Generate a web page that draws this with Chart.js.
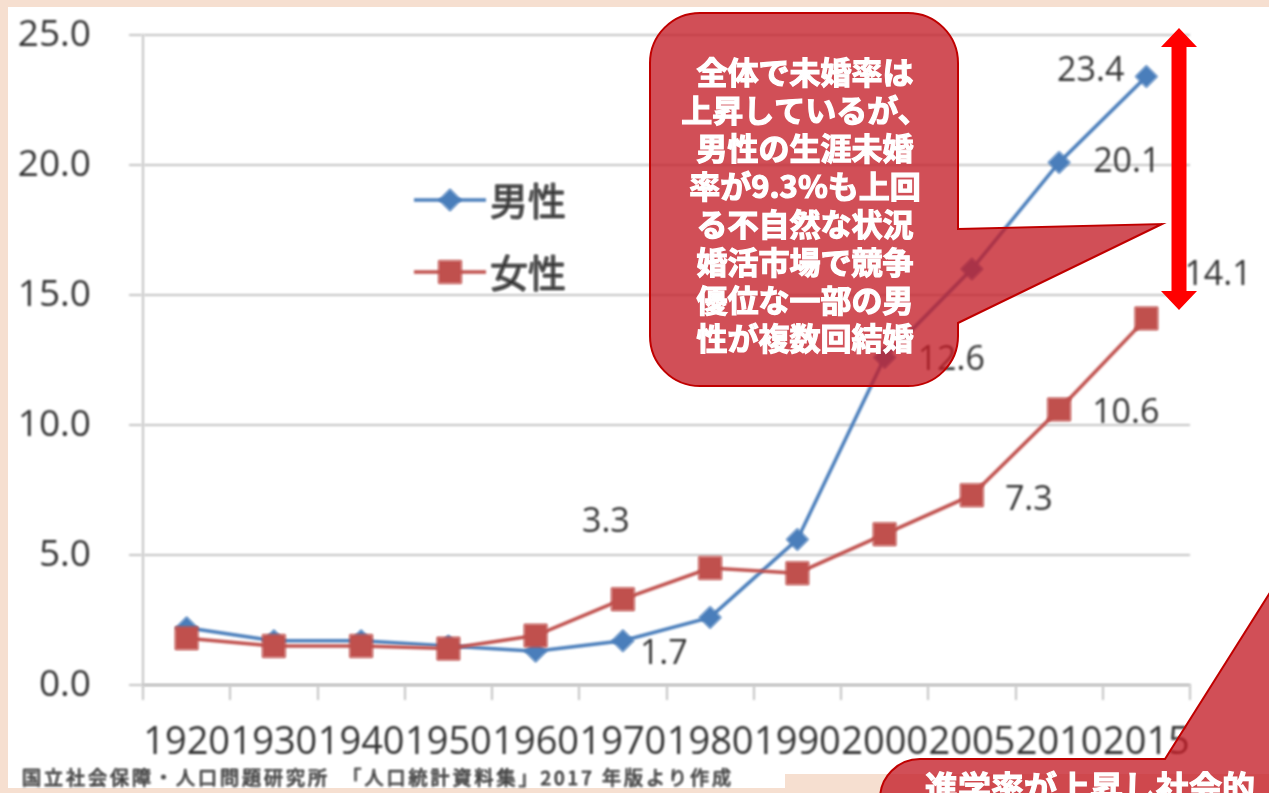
<!DOCTYPE html>
<html lang="ja">
<head>
<meta charset="utf-8">
<title>生涯未婚率の推移</title>
<script src="https://cdn.jsdelivr.net/npm/chart.js@4.4.1/dist/chart.umd.min.js"></script>
<style>
  html, body { margin: 0; padding: 0; background: #f6dfd0; overflow: hidden; }
  #wrap { position: relative; width: 1269px; height: 793px; }
  canvas { position: absolute; left: 0; top: 0; }
</style>
</head>
<body>
<div id="wrap"><canvas id="chart" width="1269" height="793"></canvas></div>
<script>
// 生涯未婚率（%）
const years = ['1920', '1930', '1940', '1950', '1960', '1970', '1980', '1990', '2000', '2005', '2010', '2015'];
const male = [2.2, 1.7, 1.7, 1.5, 1.3, 1.7, 2.6, 5.6, 12.6, 16.0, 20.1, 23.4];
const female = [1.8, 1.5, 1.5, 1.4, 1.9, 3.3, 4.5, 4.3, 5.8, 7.3, 10.6, 14.1];
const yTicks = [0, 5, 10, 15, 20, 25];
const seriesNames = ['男性', '女性'];

const calloutLines = [
    '全体で未婚率は',
    '上昇しているが、',
    '男性の生涯未婚',
    '率が9.3%も上回',
    'る不自然な状況',
    '婚活市場で競争',
    '優位な一部の男',
    '性が複数回結婚'
];
const bottomCalloutText = '進学率が上昇し社会的';
const sourceNote = '国立社会保障・人口問題研究所　「人口統計資料集」2017 年版より作成';

// which points get a value label, and where it sits relative to the point
const maleLabelSpots = [
    { i: 5, dx: 17, dy: 14, align: 'left' },
    { i: 8, dx: 33, dy: 3, align: 'left' },
    { i: 10, dx: 34, dy: 0, align: 'left' },
    { i: 11, dx: -22, dy: -5, align: 'right' }
];
const femaleLabelSpots = [
    { i: 5, dx: -17, dy: -77, align: 'center' },
    { i: 9, dx: 33, dy: 5, align: 'left' },
    { i: 10, dx: 33, dy: 4, align: 'left' },
    { i: 11, dx: 38, dy: -43, align: 'left' }
];

const BLUE = '#4a7ebb';
const RED = '#c0504d';
const GRID = '#c4c4c4';
const TEXT = '#333333';
const PEACH = '#f6dfd0';
const CALLOUT_FILL = 'rgba(196, 30, 40, 0.78)';
const CALLOUT_EDGE = '#c00000';

const numFont = '"Open Sans", "DejaVu Sans", sans-serif';
const jpFont = '"Noto Sans CJK JP", "Noto Sans", sans-serif';

// page backdrop: peach frame with the white chart sheet on it;
// the chart itself is a soft, slightly blurred image
const backdrop = {
    id: 'backdrop',
    beforeDraw(chart) {
        const ctx = chart.ctx;
        ctx.fillStyle = PEACH;
        ctx.fillRect(0, 0, chart.width, chart.height);
        ctx.fillStyle = '#ffffff';
        ctx.fillRect(8, 7, chart.width - 8, 767);
        ctx.fillRect(8, 774, 777, 14);
        ctx.filter = 'blur(0.9px)';
    }
};

// value labels and the in-plot legend
const labelsAndLegend = {
    id: 'labelsAndLegend',
    afterDatasetsDraw(chart) {
        const ctx = chart.ctx;
        ctx.save();
        ctx.font = '34px ' + numFont;
        ctx.fillStyle = TEXT;
        ctx.textBaseline = 'middle';
        const drawSpots = (dsIndex, spots, values) => {
            const meta = chart.getDatasetMeta(dsIndex);
            spots.forEach(s => {
                const pt = meta.data[s.i];
                ctx.textAlign = s.align;
                ctx.fillText(values[s.i].toFixed(1), pt.x + s.dx, pt.y + s.dy);
            });
        };
        drawSpots(0, maleLabelSpots, male);
        drawSpots(1, femaleLabelSpots, female);

        // legend
        const rows = [{ y: 200 }, { y: 272 }];
        chart.data.datasets.forEach((ds, k) => {
            const y = rows[k].y;
            ctx.strokeStyle = ds.borderColor;
            ctx.lineWidth = ds.borderWidth;
            ctx.beginPath();
            ctx.moveTo(414, y);
            ctx.lineTo(486, y);
            ctx.stroke();
            ctx.fillStyle = ds.pointBackgroundColor;
            ctx.strokeStyle = ds.pointBorderColor;
            ctx.lineWidth = 1;
            Chart.helpers.drawPoint(ctx, {
                pointStyle: ds.pointStyle,
                radius: ds.pointRadius,
                rotation: 0,
                borderWidth: 1
            }, 450, y);
            ctx.fillStyle = TEXT;
            ctx.strokeStyle = TEXT;
            ctx.lineWidth = 0.8;
            ctx.textAlign = 'left';
            ctx.font = '38px ' + jpFont;
            ctx.fillText(ds.label, 490, y + 1);
            ctx.strokeText(ds.label, 490, y + 1);
        });

        // source line under the axis
        ctx.fillStyle = TEXT;
        ctx.strokeStyle = TEXT;
        ctx.lineWidth = 0.6;
        ctx.textAlign = 'left';
        ctx.font = '19px ' + jpFont;
        ctx.letterSpacing = '3px';
        ctx.fillText(sourceNote, 22, 778);
        ctx.strokeText(sourceNote, 22, 778);
        ctx.restore();
    }
};

// speech bubbles and double arrow drawn over the chart
const overlay = {
    id: 'overlay',
    afterDraw(chart) {
        const ctx = chart.ctx;
        ctx.filter = 'none';
        ctx.save();

        // main bubble with its pointer
        const L = 650, T = 13, R = 958, B = 386, r = 50;
        ctx.beginPath();
        ctx.moveTo(L + r, T);
        ctx.lineTo(R - r, T);
        ctx.arcTo(R, T, R, T + r, r);
        ctx.lineTo(R, 229);
        ctx.lineTo(1162, 224);
        ctx.lineTo(R, 323);
        ctx.lineTo(R, B - r);
        ctx.arcTo(R, B, R - r, B, r);
        ctx.lineTo(L + r, B);
        ctx.arcTo(L, B, L, B - r, r);
        ctx.lineTo(L, T + r);
        ctx.arcTo(L, T, L + r, T, r);
        ctx.closePath();
        ctx.fillStyle = CALLOUT_FILL;
        ctx.fill();
        ctx.lineWidth = 2;
        ctx.strokeStyle = CALLOUT_EDGE;
        ctx.stroke();

        ctx.fillStyle = '#ffffff';
        ctx.strokeStyle = '#ffffff';
        ctx.lineWidth = 1.2;
        ctx.textAlign = 'center';
        ctx.textBaseline = 'middle';
        ctx.font = 'bold 31px ' + jpFont;
        calloutLines.forEach((line, k) => {
            const y = 72 + k * 38;
            ctx.fillText(line, 805, y);
            ctx.strokeText(line, 805, y);
        });

        // lower bubble running off the page
        const bl = 880, bt = 759, br = 40;
        ctx.beginPath();
        ctx.moveTo(bl, 830);
        ctx.lineTo(bl, bt + br);
        ctx.arcTo(bl, bt, bl + br, bt, br);
        ctx.lineTo(1165, bt);
        ctx.lineTo(1300, 545);
        ctx.lineTo(1300, 830);
        ctx.closePath();
        ctx.fillStyle = CALLOUT_FILL;
        ctx.fill();
        ctx.lineWidth = 2;
        ctx.strokeStyle = CALLOUT_EDGE;
        ctx.stroke();
        ctx.fillStyle = '#ffffff';
        ctx.strokeStyle = '#ffffff';
        ctx.lineWidth = 1.2;
        ctx.textAlign = 'left';
        ctx.font = 'bold 33px ' + jpFont;
        ctx.fillText(bottomCalloutText, 925, 787);
        ctx.strokeText(bottomCalloutText, 925, 787);

        // red double-headed arrow spanning the gap
        const ax = 1179, top = 28, bot = 310, hw = 18, hh = 19, sw = 7.5;
        ctx.fillStyle = '#ff0000';
        ctx.beginPath();
        ctx.moveTo(ax, top);
        ctx.lineTo(ax + hw, top + hh);
        ctx.lineTo(ax + sw, top + hh);
        ctx.lineTo(ax + sw, bot - hh);
        ctx.lineTo(ax + hw, bot - hh);
        ctx.lineTo(ax, bot);
        ctx.lineTo(ax - hw, bot - hh);
        ctx.lineTo(ax - sw, bot - hh);
        ctx.lineTo(ax - sw, top + hh);
        ctx.lineTo(ax - hw, top + hh);
        ctx.closePath();
        ctx.fill();
        ctx.restore();
    }
};

new Chart(document.getElementById('chart'), {
    type: 'line',
    data: {
        labels: years,
        datasets: [
            {
                label: seriesNames[0],
                data: male,
                borderColor: BLUE,
                backgroundColor: BLUE,
                pointBackgroundColor: BLUE,
                pointBorderColor: BLUE,
                borderWidth: 3.5,
                pointStyle: 'rectRot',
                pointRadius: 11,
                pointBorderWidth: 1,
                tension: 0,
                order: 1
            },
            {
                label: seriesNames[1],
                data: female,
                borderColor: RED,
                backgroundColor: RED,
                pointBackgroundColor: RED,
                pointBorderColor: RED,
                borderWidth: 3.5,
                pointStyle: 'rect',
                pointRadius: 16,
                pointBorderWidth: 1,
                tension: 0,
                order: 0
            }
        ]
    },
    options: {
        responsive: false,
        animation: false,
        events: [],
        layout: { autoPadding: false, padding: { top: 35, right: 79, left: 0, bottom: 0 } },
        plugins: {
            legend: { display: false },
            tooltip: { enabled: false }
        },
        scales: {
            x: {
                offset: true,
                grid: { offset: true, drawOnChartArea: false, tickLength: 15, color: GRID, lineWidth: 2 },
                border: { color: GRID, width: 2 },
                ticks: {
                    autoSkip: false,
                    maxRotation: 0,
                    minRotation: 0,
                    padding: 20,
                    color: TEXT,
                    font: { family: numFont, size: 38 }
                },
                afterFit(scale) {
                    scale.height = 108;
                    scale.paddingLeft = 0;
                    scale.paddingRight = 0;
                }
            },
            y: {
                min: 0,
                max: 25,
                afterBuildTicks(scale) { scale.ticks = yTicks.map(v => ({ value: v })); },
                grid: { tickLength: 14, color: GRID, lineWidth: 2 },
                border: { color: GRID, width: 2 },
                ticks: {
                    padding: 38,
                    color: TEXT,
                    font: { family: numFont, size: 37 },
                    callback: v => v.toFixed(1)
                },
                afterFit(scale) {
                    scale.width = 143;
                    scale.paddingTop = 0;
                    scale.paddingBottom = 0;
                }
            }
        }
    },
    plugins: [backdrop, labelsAndLegend, overlay]
});
</script>
</body>
</html>
